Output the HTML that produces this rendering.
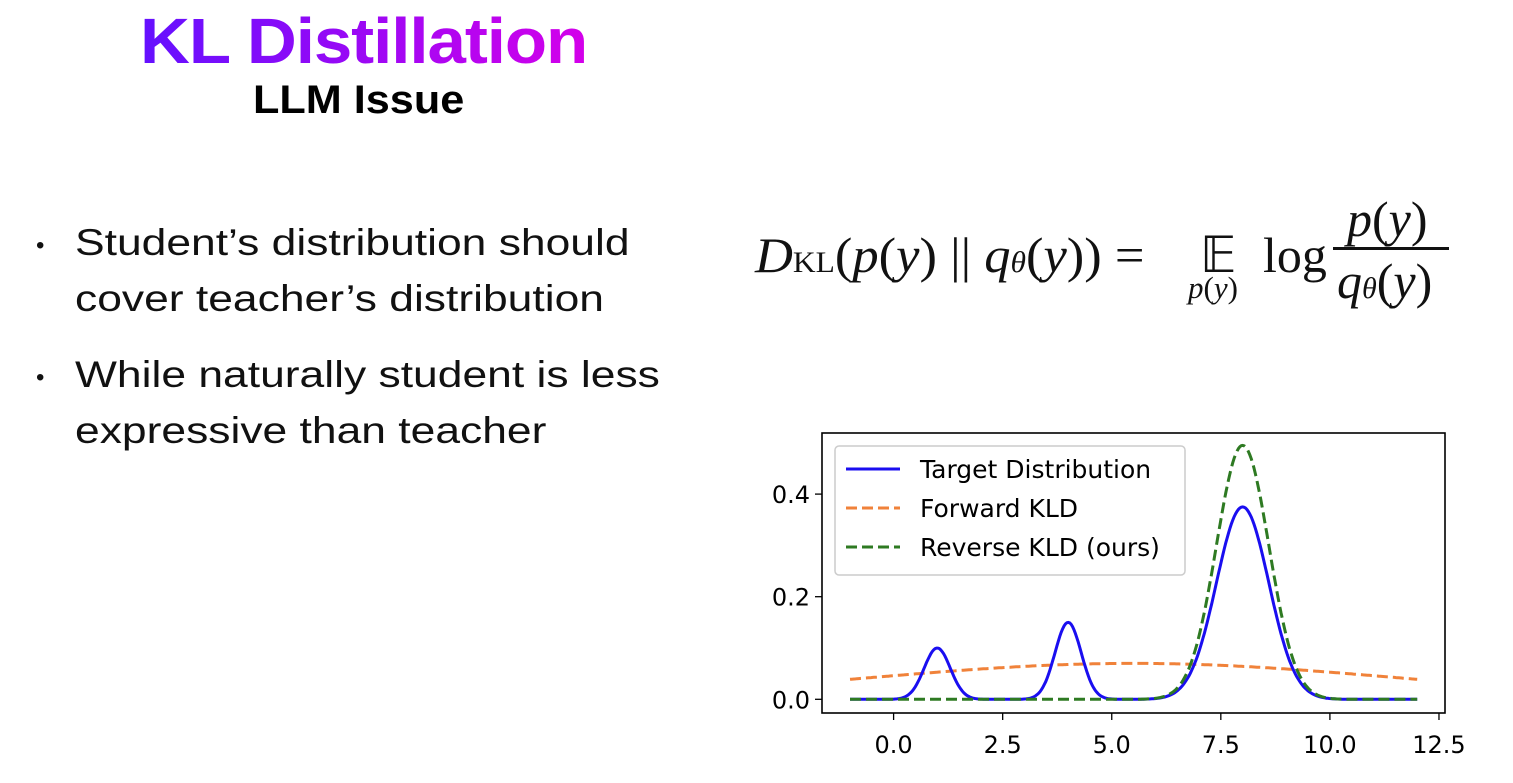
<!DOCTYPE html>
<html><head><meta charset="utf-8">
<style>
body{margin:0;width:1513px;height:783px;background:#fff;position:relative;overflow:hidden;font-family:"Liberation Sans",sans-serif;color:#111}
.abs{position:absolute;white-space:nowrap}
#title{left:140px;top:4px;font-size:64px;font-weight:bold;letter-spacing:-1px;transform:scaleX(1.08);transform-origin:0 0;background:linear-gradient(90deg,#6410ff,#d400ea);-webkit-background-clip:text;background-clip:text;color:transparent}
#subtitle{left:253px;top:78px;font-size:40px;font-weight:bold;color:#000;transform:scaleX(1.08);transform-origin:0 0}
.b{font-size:37px;color:#111;left:75px;transform:scaleX(1.2);transform-origin:0 0}
.dot{font-size:24px;left:36px}
.m{font-family:"Liberation Serif",serif;font-size:50px;color:#111}
</style></head><body>
<div id="title" class="abs">KL Distillation</div>
<div id="subtitle" class="abs">LLM Issue</div>
<div class="abs dot" style="top:232px">•</div>
<div class="abs b" style="top:222px">Student’s distribution should</div>
<div class="abs b" style="top:278px">cover teacher’s distribution</div>
<div class="abs dot" style="top:364px">•</div>
<div class="abs b" style="top:354px">While naturally student is less</div>
<div class="abs b" style="top:410px">expressive than teacher</div>

<div>
<div class="abs m" style="left:755px;top:226px;transform:scaleX(1.05);transform-origin:0 0"><i>D</i><span style="font-size:30px">KL</span>(<i>p</i>(<i>y</i>) || <i>q<span style="font-size:30px">θ</span></i>(<i>y</i>)) =</div>
<div class="abs m" style="left:1200px;top:226px">𝔼</div>
<div class="abs m" style="left:1188px;top:270px;font-size:31px"><i>p</i>(<i>y</i>)</div>
<div class="abs m" style="left:1263px;top:226px">log</div>
<div class="abs m" style="left:1347px;top:190px"><i>p</i>(<i>y</i>)</div>
<div class="abs" style="left:1333px;top:247px;width:116px;height:3px;background:#111"></div>
<div class="abs m" style="left:1337px;top:252px"><i>q<span style="font-size:30px">θ</span></i>(<i>y</i>)</div>
</div>

<svg id="chart" class="abs" style="left:0;top:0" width="1513" height="783"></svg>
<script>
// Gaussian component parameters
const targetMeans=[1,4,8];
const targetHeights=[0.1,0.15,0.375];
const targetSigmas=[0.3,0.3,0.6];
const forwardMeans=[5.5];
const forwardHeights=[0.07];
const forwardSigmas=[6.0];
const reverseMeans=[8];
const reverseHeights=[0.495];
const reverseSigmas=[0.6];
const xTicks=[0,2.5,5,7.5,10,12.5];
const xTickLabels=["0.0","2.5","5.0","7.5","10.0","12.5"];
const yTicks=[0,0.2,0.4];
const yTickLabels=["0.0","0.2","0.4"];
const xDomain=[-1,12];
const legendLabels=["Target Distribution","Forward KLD","Reverse KLD (ours)"];

const NS="http://www.w3.org/2000/svg";
const svg=document.getElementById('chart');
const L=822,R=1445,T=433,B=713;
const X=v=>893.6+(v-0)*43.63;
const Y=v=>699.3-v*513;
function mk(tag,attrs){const e=document.createElementNS(NS,tag);for(const k in attrs)e.setAttribute(k,attrs[k]);svg.appendChild(e);return e;}
function curve(m,h,s,x){let y=0;for(let i=0;i<m.length;i++)y+=h[i]*Math.exp(-((x-m[i])**2)/(2*s[i]*s[i]));return y;}
function path(m,h,s){let d="";const n=400;for(let i=0;i<=n;i++){const x=xDomain[0]+(xDomain[1]-xDomain[0])*i/n;d+=(i?"L":"M")+X(x).toFixed(1)+","+Y(curve(m,h,s,x)).toFixed(1);}return d;}

let e=mk('rect',{x:L,y:T,width:R-L,height:B-T,fill:'none',stroke:'#000','stroke-width':1.6});


xTicks.forEach((t,i)=>{
  let l=mk('line',{x1:X(t),x2:X(t),y1:B,y2:B+7,stroke:'#000','stroke-width':1.3});
  
  
  let tx=mk('text',{x:X(t),y:B+40,'text-anchor':'middle','font-family':'DejaVu Sans, sans-serif','font-size':24,fill:'#000'});
  tx.textContent=xTickLabels[i];
  
  
});
yTicks.forEach((t,i)=>{
  let l=mk('line',{x1:L-7,x2:L,y1:Y(t),y2:Y(t),stroke:'#000','stroke-width':1.3});
  
  
  let tx=mk('text',{x:L-12,y:Y(t)+9,'text-anchor':'end','font-family':'DejaVu Sans, sans-serif','font-size':24,fill:'#000'});
  tx.textContent=yTickLabels[i];
  
  
});
e=mk('path',{d:path(forwardMeans,forwardHeights,forwardSigmas),fill:'none',stroke:'#f0823a','stroke-width':3,'stroke-dasharray':'11,5'});


e=mk('path',{d:path(targetMeans,targetHeights,targetSigmas),fill:'none',stroke:'#1a0ef0','stroke-width':3});


e=mk('path',{d:path(reverseMeans,reverseHeights,reverseSigmas),fill:'none',stroke:'#2e7a22','stroke-width':3,'stroke-dasharray':'11,5'});



e=mk('rect',{x:835,y:446,width:350,height:129,rx:4,fill:'#fff','fill-opacity':0.85,stroke:'#ccc','stroke-width':1.5});


const legColors=['#1a0ef0','#f0823a','#2e7a22'];
const legDash=['none','11,5','11,5'];
legendLabels.forEach((lab,i)=>{
  const y=469+i*39;
  let l=mk('line',{x1:846,x2:900,y1:y,y2:y,stroke:legColors[i],'stroke-width':3,'stroke-dasharray':legDash[i]});
  
  
  let t=mk('text',{x:920,y:y+9,'font-family':'DejaVu Sans, sans-serif','font-size':25,fill:'#000'});
  t.textContent=lab;
  
  
});
</script>
</body></html>
